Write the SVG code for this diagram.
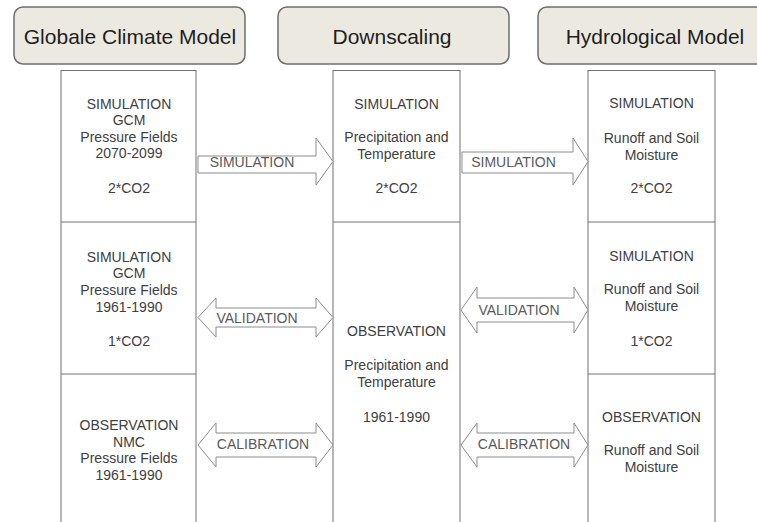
<svg xmlns="http://www.w3.org/2000/svg" width="757" height="522" viewBox="0 0 757 522">
<style>
.hdr rect{fill:#ECEAE0;stroke:#6E6E6E;stroke-width:1.5}
.hdr text{font-family:"Liberation Sans",Arial,sans-serif;font-size:21px;fill:#1E1E1E;text-anchor:middle}
.col rect,.col line{fill:#fff;stroke:#707070;stroke-width:1}
.col text{font-family:"Liberation Sans",Arial,sans-serif;font-size:14px;fill:#404040;text-anchor:middle}
.arr path{fill:#fff;stroke:#8C8C8C;stroke-width:1}
.arr text{font-family:"Liberation Sans",Arial,sans-serif;font-size:14px;fill:#5A5A5A;text-anchor:middle}
</style>
<rect width="757" height="522" fill="#fff"/>
<g id="hdr-gcm" class="hdr"><rect x="14" y="7" width="231" height="57" rx="9"/><text x="130" y="44">Globale Climate Model</text></g>
<g id="hdr-down" class="hdr"><rect x="278" y="7" width="231" height="57" rx="9"/><text x="392" y="44">Downscaling</text></g>
<g id="hdr-hyd" class="hdr"><rect x="538" y="7" width="232" height="57" rx="9"/><text x="655" y="44">Hydrological Model</text></g>

<g id="col-gcm" class="col">
<rect x="61" y="70.5" width="135" height="460"/>
<line x1="61" y1="222" x2="196" y2="222"/>
<line x1="61" y1="374" x2="196" y2="374"/>
<text x="129" y="109">SIMULATION</text>
<text x="129" y="125">GCM</text>
<text x="129" y="142">Pressure Fields</text>
<text x="129" y="158">2070-2099</text>
<text x="129" y="193">2*CO2</text>
<text x="129" y="262">SIMULATION</text>
<text x="129" y="278">GCM</text>
<text x="129" y="295">Pressure Fields</text>
<text x="129" y="312">1961-1990</text>
<text x="129" y="346">1*CO2</text>
<text x="129" y="430">OBSERVATION</text>
<text x="129" y="447">NMC</text>
<text x="129" y="463">Pressure Fields</text>
<text x="129" y="480">1961-1990</text>
</g>

<g id="col-down" class="col">
<rect x="333" y="70.5" width="127" height="460"/>
<line x1="333" y1="222" x2="460" y2="222"/>
<text x="396.5" y="109">SIMULATION</text>
<text x="396.5" y="142">Precipitation and</text>
<text x="396.5" y="159">Temperature</text>
<text x="396.5" y="193">2*CO2</text>
<text x="396.5" y="336">OBSERVATION</text>
<text x="396.5" y="370">Precipitation and</text>
<text x="396.5" y="387">Temperature</text>
<text x="396.5" y="422">1961-1990</text>
</g>

<g id="col-hyd" class="col">
<rect x="588" y="70.5" width="127" height="460"/>
<line x1="588" y1="222" x2="715" y2="222"/>
<line x1="588" y1="374" x2="715" y2="374"/>
<text x="651.5" y="108">SIMULATION</text>
<text x="651.5" y="143">Runoff and Soil</text>
<text x="651.5" y="160">Moisture</text>
<text x="651.5" y="193">2*CO2</text>
<text x="651.5" y="261">SIMULATION</text>
<text x="651.5" y="294">Runoff and Soil</text>
<text x="651.5" y="311">Moisture</text>
<text x="651.5" y="346">1*CO2</text>
<text x="651.5" y="422">OBSERVATION</text>
<text x="651.5" y="455">Runoff and Soil</text>
<text x="651.5" y="472">Moisture</text>
</g>

<g id="connectors" class="arr">
<g id="sim1"><path d="M198,156 H316 V138 L333,161.5 L316,185 V173 H198 Z"/><text x="252" y="167">SIMULATION</text></g>
<g id="sim2"><path d="M462,152 H573 V138 L588,161.5 L573,185 V173 H462 Z"/><text x="513.5" y="167">SIMULATION</text></g>
<g id="val1"><path d="M198,317.5 L216,298 V308 H316 V298 L333,317.5 L316,337 V327 H216 V337 Z"/><text x="257" y="323">VALIDATION</text></g>
<g id="val2"><path d="M461,310 L477,287 V298 H574 V287 L588,310 L574,333 V322 H477 V333 Z"/><text x="519" y="315">VALIDATION</text></g>
<g id="cal1"><path d="M198,445 L216,423 V433 H316 V423 L333,445 L316,467 V457 H216 V467 Z"/><text x="263" y="449">CALIBRATION</text></g>
<g id="cal2"><path d="M461,445 L477,423 V433 H574 V423 L588,445 L574,467 V457 H477 V467 Z"/><text x="524" y="449">CALIBRATION</text></g>
</g>
</svg>
